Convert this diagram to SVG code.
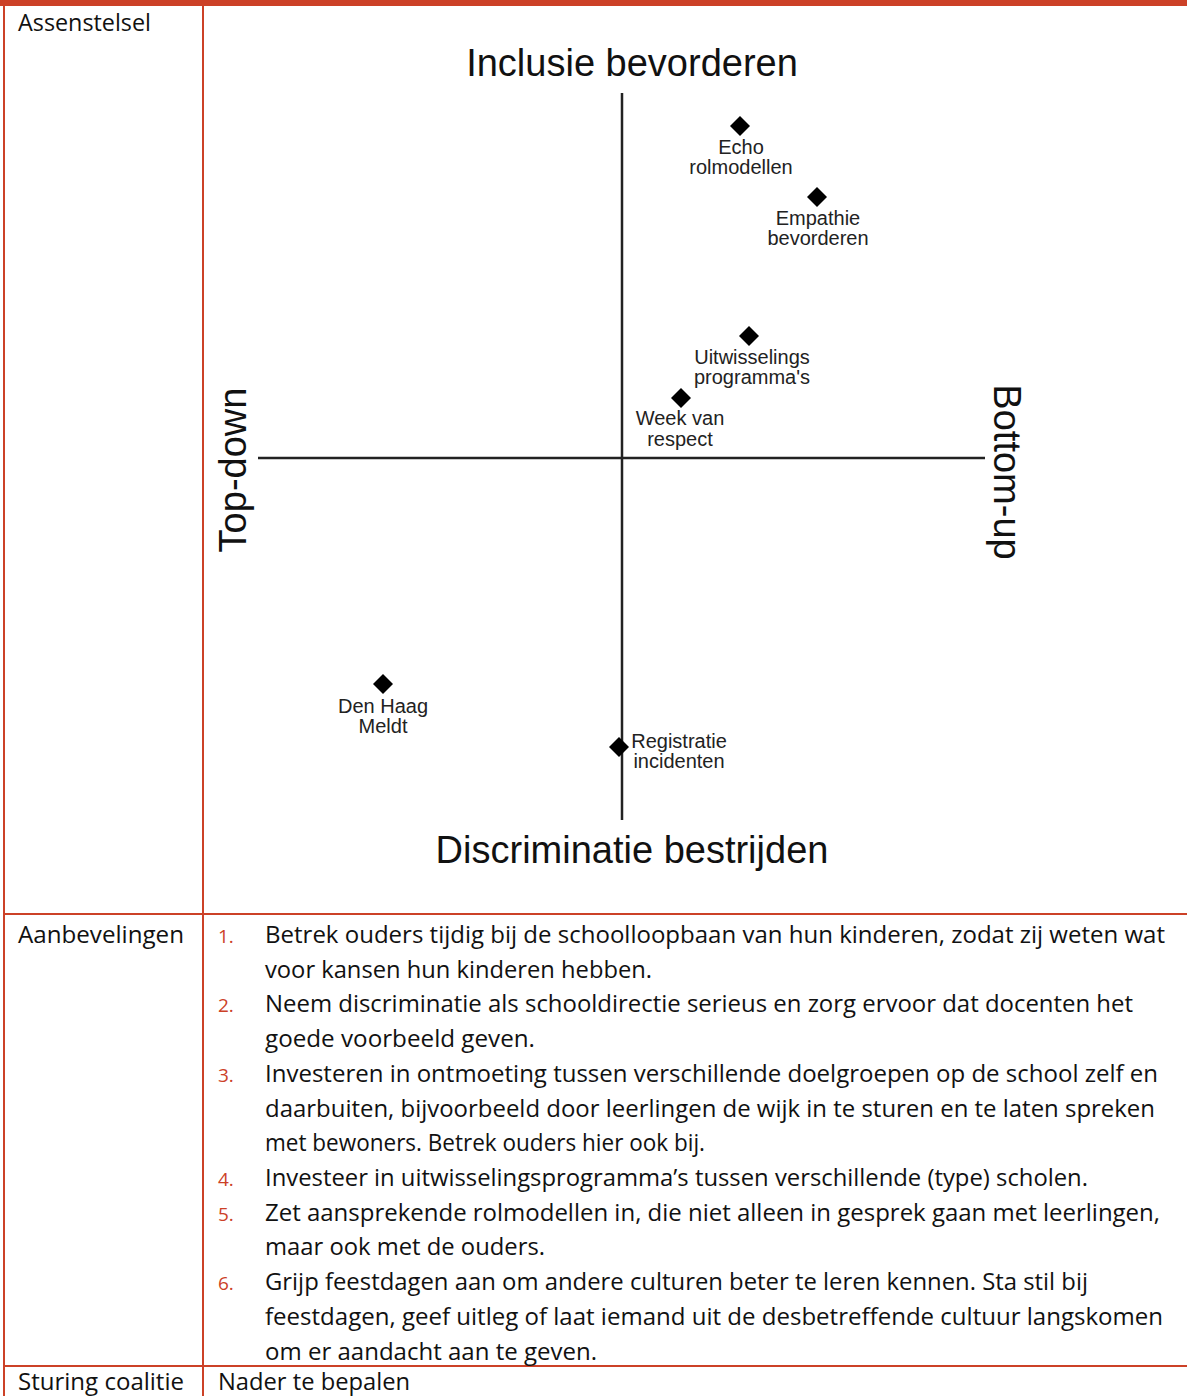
<svg xmlns="http://www.w3.org/2000/svg" width="1187" height="1396" viewBox="0 0 1187 1396">
<style>
.tbl{font-family:"Open Sans","Noto Sans",sans-serif;font-size:23px;fill:#111}
.num{font-family:"Open Sans","Noto Sans",sans-serif;font-size:19px;fill:#cc4127}
.ax{font-family:"Liberation Sans",Arial,sans-serif;font-size:38px;fill:#111}
.lbl{font-family:"Liberation Sans",Arial,sans-serif;font-size:20px;fill:#222;text-anchor:middle}
.grid{stroke:#cc4127;stroke-width:2;fill:none}
.axis{stroke:#222;stroke-width:2.5;fill:none}
.dia{fill:#000}
</style>
<defs>
<path id="d" d="M0,-10 L10,0 L0,10 L-10,0 Z"/>
</defs>
<rect width="1187" height="1396" fill="#fff"/>
<g id="table">
<rect x="0" y="0" width="1187" height="6" fill="#cc4127"/>
<line class="grid" x1="4" y1="0" x2="4" y2="1396"/>
<line class="grid" x1="203" y1="0" x2="203" y2="1396"/>
<line class="grid" x1="4" y1="914" x2="1187" y2="914"/>
<line class="grid" x1="4" y1="1366" x2="1187" y2="1366"/>
<text class="tbl" x="18" y="31" textLength="133" lengthAdjust="spacingAndGlyphs">Assenstelsel</text>
<text class="tbl" x="18" y="943" textLength="166" lengthAdjust="spacingAndGlyphs">Aanbevelingen</text>
<text class="tbl" x="18" y="1390" textLength="166" lengthAdjust="spacingAndGlyphs">Sturing coalitie</text>
<text class="tbl" x="218" y="1390" textLength="192" lengthAdjust="spacingAndGlyphs">Nader te bepalen</text>
</g>
<g id="connectors">
<line class="axis" x1="622" y1="93" x2="622" y2="820"/>
<line class="axis" x1="258" y1="458" x2="985" y2="458"/>
</g>
<g id="axis-labels">
<text class="ax" x="632" y="76" text-anchor="middle">Inclusie bevorderen</text>
<text class="ax" x="632" y="863" text-anchor="middle">Discriminatie bestrijden</text>
<text class="ax" transform="translate(246,470) rotate(-90)" text-anchor="middle">Top-down</text>
<text class="ax" transform="translate(994,472) rotate(90)" text-anchor="middle">Bottom-up</text>
</g>
<g id="echo">
<use href="#d" class="dia" x="740" y="126"/>
<text class="lbl" x="741" y="154">Echo</text>
<text class="lbl" x="741" y="174">rolmodellen</text>
</g>
<g id="empathie">
<use href="#d" class="dia" x="817" y="197"/>
<text class="lbl" x="818" y="225">Empathie</text>
<text class="lbl" x="818" y="245">bevorderen</text>
</g>
<g id="uitwisselings">
<use href="#d" class="dia" x="749" y="336"/>
<text class="lbl" x="752" y="364">Uitwisselings</text>
<text class="lbl" x="752" y="384">programma's</text>
</g>
<g id="week">
<use href="#d" class="dia" x="681" y="398"/>
<text class="lbl" x="680" y="425">Week van</text>
<text class="lbl" x="680" y="446">respect</text>
</g>
<g id="denhaag">
<use href="#d" class="dia" x="383" y="684"/>
<text class="lbl" x="383" y="713">Den Haag</text>
<text class="lbl" x="383" y="733">Meldt</text>
</g>
<g id="registratie">
<use href="#d" class="dia" x="619" y="747"/>
<text class="lbl" x="679" y="748">Registratie</text>
<text class="lbl" x="679" y="768">incidenten</text>
</g>
<g id="aanbevelingen">
<text class="num" x="218" y="943">1.</text>
<text class="tbl" x="265" y="943" textLength="900" lengthAdjust="spacingAndGlyphs">Betrek ouders tijdig bij de schoolloopbaan van hun kinderen, zodat zij weten wat</text>
<text class="tbl" x="265" y="978" textLength="387" lengthAdjust="spacingAndGlyphs">voor kansen hun kinderen hebben.</text>
<text class="num" x="218" y="1012">2.</text>
<text class="tbl" x="265" y="1012" textLength="868" lengthAdjust="spacingAndGlyphs">Neem discriminatie als schooldirectie serieus en zorg ervoor dat docenten het</text>
<text class="tbl" x="265" y="1047" textLength="270" lengthAdjust="spacingAndGlyphs">goede voorbeeld geven.</text>
<text class="num" x="218" y="1082">3.</text>
<text class="tbl" x="265" y="1082" textLength="893" lengthAdjust="spacingAndGlyphs">Investeren in ontmoeting tussen verschillende doelgroepen op de school zelf en</text>
<text class="tbl" x="265" y="1117" textLength="890" lengthAdjust="spacingAndGlyphs">daarbuiten, bijvoorbeeld door leerlingen de wijk in te sturen en te laten spreken</text>
<text class="tbl" x="265" y="1151" textLength="440" lengthAdjust="spacingAndGlyphs">met bewoners. Betrek ouders hier ook bij.</text>
<text class="num" x="218" y="1186">4.</text>
<text class="tbl" x="265" y="1186" textLength="823" lengthAdjust="spacingAndGlyphs">Investeer in uitwisselingsprogramma’s tussen verschillende (type) scholen.</text>
<text class="num" x="218" y="1221">5.</text>
<text class="tbl" x="265" y="1221" textLength="895" lengthAdjust="spacingAndGlyphs">Zet aansprekende rolmodellen in, die niet alleen in gesprek gaan met leerlingen,</text>
<text class="tbl" x="265" y="1255" textLength="280" lengthAdjust="spacingAndGlyphs">maar ook met de ouders.</text>
<text class="num" x="218" y="1290">6.</text>
<text class="tbl" x="265" y="1290" textLength="823" lengthAdjust="spacingAndGlyphs">Grijp feestdagen aan om andere culturen beter te leren kennen. Sta stil bij</text>
<text class="tbl" x="265" y="1325" textLength="898" lengthAdjust="spacingAndGlyphs">feestdagen, geef uitleg of laat iemand uit de desbetreffende cultuur langskomen</text>
<text class="tbl" x="265" y="1360" textLength="332" lengthAdjust="spacingAndGlyphs">om er aandacht aan te geven.</text>
</g>
</svg>
